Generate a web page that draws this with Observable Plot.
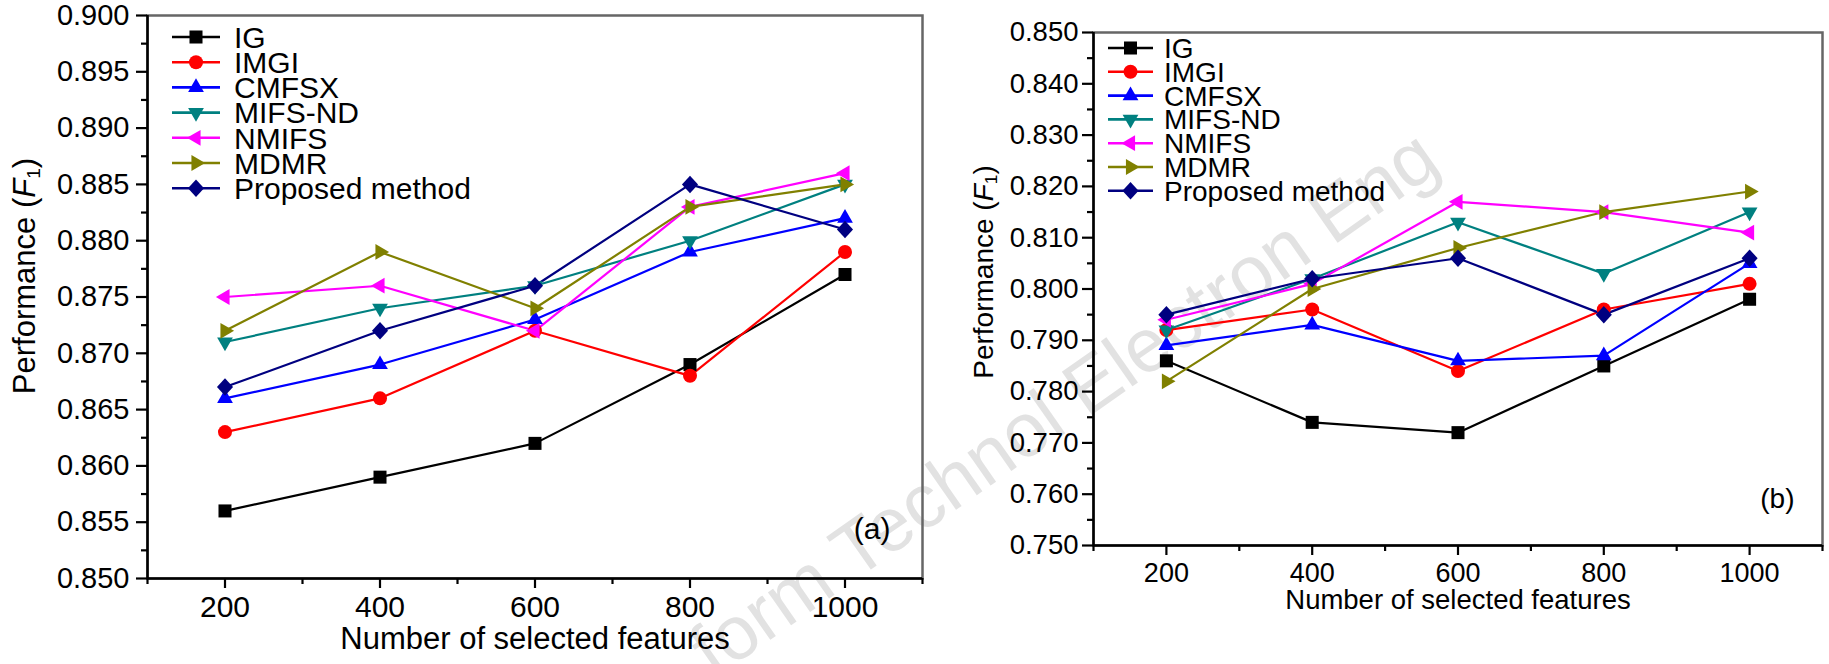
<!DOCTYPE html>
<html><head><meta charset="utf-8">
<script src="https://cdn.jsdelivr.net/npm/d3@7"></script>
<script src="https://cdn.jsdelivr.net/npm/@observablehq/plot@0.6"></script>
<style>
html,body{margin:0;padding:0;background:#fff;width:1829px;height:664px;overflow:hidden;}
#wrap{position:relative;width:1829px;height:664px;overflow:hidden;}
#wm{position:absolute;left:0;top:0;}
#pa{position:absolute;left:0;top:0;}
#pb{position:absolute;left:950px;top:0;}
</style></head><body>
<div id="wrap"><svg id="wm" width="1829" height="664"></svg><div id="pa"></div><div id="pb"></div></div>
<script>
// ---------- data ----------
const methods = ["IG", "IMGI", "CMFSX", "MIFS-ND", "NMIFS", "MDMR", "Proposed method"];
const colors = ["#000000", "#ff0000", "#0000ff", "#008080", "#ff00ff", "#808000", "#000080"];
const features = [200, 400, 600, 800, 1000];

// panel (a)
const aIG       = [0.856, 0.859, 0.862, 0.869, 0.877];
const aIMGI     = [0.863, 0.866, 0.872, 0.868, 0.879];
const aCMFSX    = [0.866, 0.869, 0.873, 0.879, 0.882];
const aMIFSND   = [0.871, 0.874, 0.876, 0.880, 0.885];
const aNMIFS    = [0.875, 0.876, 0.872, 0.883, 0.886];
const aMDMR     = [0.872, 0.879, 0.874, 0.883, 0.885];
const aProposed = [0.867, 0.872, 0.876, 0.885, 0.881];

// panel (b)
const bIG       = [0.786, 0.774, 0.772, 0.785, 0.798];
const bIMGI     = [0.792, 0.796, 0.784, 0.796, 0.801];
const bCMFSX    = [0.789, 0.793, 0.786, 0.787, 0.805];
const bMIFSND   = [0.792, 0.802, 0.813, 0.803, 0.815];
const bNMIFS    = [0.794, 0.801, 0.817, 0.815, 0.811];
const bMDMR     = [0.782, 0.800, 0.808, 0.815, 0.819];
const bProposed = [0.795, 0.802, 0.806, 0.795, 0.806];

// axis ticks
const xTicks = [200, 400, 600, 800, 1000];
const xMinorTicks = [100, 300, 500, 700, 900, 1100];
const aYTicks = [0.850, 0.855, 0.860, 0.865, 0.870, 0.875, 0.880, 0.885, 0.890, 0.895, 0.900];
const aYMinorTicks = [0.8525, 0.8575, 0.8625, 0.8675, 0.8725, 0.8775, 0.8825, 0.8875, 0.8925, 0.8975];
const bYTicks = [0.750, 0.760, 0.770, 0.780, 0.790, 0.800, 0.810, 0.820, 0.830, 0.840, 0.850];
const bYMinorTicks = [0.755, 0.765, 0.775, 0.785, 0.795, 0.805, 0.815, 0.825, 0.835, 0.845];

// ---------- symbols ----------
const rOf = size => Math.sqrt(size / Math.PI);
const symSquare = {draw(ctx, size){ const r = rOf(size) * 0.93; ctx.rect(-r, -r, 2*r, 2*r); }};
const symCircle = {draw(ctx, size){ const r = rOf(size) * 1.0; ctx.moveTo(r, 0); ctx.arc(0, 0, r, 0, 2*Math.PI); }};
const tri = angle => ({draw(ctx, size){
  const r = rOf(size) * 1.3;
  for (let i = 0; i < 3; i++) {
    const t = angle + i * 2 * Math.PI / 3;
    const x = r * Math.cos(t), y = r * Math.sin(t);
    if (i) ctx.lineTo(x, y); else ctx.moveTo(x, y);
  }
  ctx.closePath();
}});
const symDiamond = {draw(ctx, size){
  const r = rOf(size);
  ctx.moveTo(0, -1.25*r); ctx.lineTo(1.15*r, 0); ctx.lineTo(0, 1.25*r); ctx.lineTo(-1.15*r, 0); ctx.closePath();
}};
const symbols = [symSquare, symCircle, tri(-Math.PI/2), tri(Math.PI/2), tri(Math.PI), tri(0), symDiamond];

function buildRows(series) {
  const rows = [];
  series.forEach((vals, i) => vals.forEach((v, j) => rows.push({method: methods[i], features: features[j], value: v})));
  return rows;
}
const dataA = buildRows([aIG, aIMGI, aCMFSX, aMIFSND, aNMIFS, aMDMR, aProposed]);
const dataB = buildRows([bIG, bIMGI, bCMFSX, bMIFSND, bNMIFS, bMDMR, bProposed]);

const FONT = "Liberation Sans, Arial, Helvetica, sans-serif";

function makePanel(cfg) {
  const svg = Plot.plot({
    width: cfg.width, height: 664,
    marginLeft: cfg.ml, marginRight: cfg.mr, marginTop: cfg.mt, marginBottom: cfg.mb,
    style: {background: "transparent", fontFamily: FONT, fontSize: cfg.tickFont + "px", color: "#000", overflow: "visible"},
    x: {domain: [100, 1100]},
    y: {domain: cfg.yDomain},
    color: {domain: methods, range: colors},
    symbol: {domain: methods, range: symbols},
    marks: [
      Plot.frame({stroke: "#666", strokeWidth: 2.5}),
      Plot.axisX(xTicks, {tickSize: 10, tickPadding: 7, strokeWidth: 2.2, fontSize: cfg.xTickFont, label: null, tickFormat: d => String(d)}),
      Plot.axisX(xMinorTicks, {tickSize: 6, strokeWidth: 2.2, text: null, label: null}),
      Plot.axisY(cfg.yTicks, {tickSize: 11, tickPadding: cfg.yPad, strokeWidth: 2.2, fontSize: cfg.tickFont, label: null, tickFormat: d3.format(".3f")}),
      Plot.axisY(cfg.yMinor, {tickSize: 6, strokeWidth: 2.2, text: null, label: null}),
      Plot.ruleY([cfg.yDomain[0]], {stroke: "#000", strokeWidth: 2.5}),
      Plot.ruleX([100], {stroke: "#000", strokeWidth: 2.5}),
      Plot.line(cfg.data, {x: "features", y: "value", z: "method", stroke: "method", strokeWidth: 2.2}),
      Plot.dot(cfg.data, {x: "features", y: "value", symbol: "method", fill: "method", stroke: null, r: 7}),
      Plot.text([cfg.tag], {text: d => d, frameAnchor: "bottom-right", textAnchor: "end", dx: cfg.tagDx, dy: cfg.tagDy, fontSize: cfg.tagFont}),
      Plot.text(["Number of selected features"], {text: d => d, frameAnchor: "bottom", dy: cfg.xTitleDy, fontSize: cfg.xTitleFont})
    ]
  });
  const s = d3.select(svg);
  // y title
  const t = s.append("text")
    .attr("transform", `translate(${cfg.yTitleX},${cfg.yTitleY}) rotate(-90)`)
    .attr("text-anchor", "middle")
    .attr("font-size", cfg.yTitleFont)
    .attr("fill", "#000");
  t.append("tspan").text("Performance (");
  t.append("tspan").attr("font-style", "italic").text("F");
  t.append("tspan").attr("font-size", cfg.yTitleFont * 0.62).attr("dy", "0.25em").text("1");
  t.append("tspan").attr("dy", "-0.15em").text(")");
  // legend
  const g = s.append("g").attr("text-anchor", "start");
  methods.forEach((m, i) => {
    const y = cfg.legY0 + cfg.legDy * i;
    g.append("line").attr("x1", cfg.legX0).attr("x2", cfg.legX1).attr("y1", y).attr("y2", y)
      .attr("stroke", colors[i]).attr("stroke-width", 2.6);
    g.append("path").attr("transform", `translate(${(cfg.legX0 + cfg.legX1) / 2},${y})`)
      .attr("d", d3.symbol(symbols[i], Math.PI * 49)()).attr("fill", colors[i]);
    g.append("text").attr("x", cfg.legXT).attr("y", y).attr("dy", "0.36em")
      .attr("text-anchor", "start")
      .attr("font-size", cfg.legFont).attr("fill", "#000").text(m);
  });
  return svg;
}

document.getElementById("pa").append(makePanel({
  width: 925, ml: 147, mr: 3, mt: 15, mb: 86,
  yDomain: [0.85, 0.90], yTicks: aYTicks, yMinor: aYMinorTicks, yPad: 7,
  tickFont: 29, xTickFont: 30, data: dataA,
  tag: "(a)", tagDx: -32, tagDy: -40, tagFont: 30,
  xTitleDy: 70, xTitleFont: 31,
  yTitleX: 35, yTitleY: 276, yTitleFont: 31,
  legX0: 172, legX1: 220, legXT: 234, legY0: 37, legDy: 25.2, legFont: 30
}));

document.getElementById("pb").append(makePanel({
  width: 879, ml: 143, mr: 7, mt: 32, mb: 119,
  yDomain: [0.75, 0.85], yTicks: bYTicks, yMinor: bYMinorTicks, yPad: 4,
  tickFont: 27.5, xTickFont: 27, data: dataB,
  tag: "(b)", tagDx: -28, tagDy: -38, tagFont: 28,
  xTitleDy: 63, xTitleFont: 27.5,
  yTitleX: 43, yTitleY: 272, yTitleFont: 28,
  legX0: 158, legX1: 203, legXT: 214, legY0: 48, legDy: 23.8, legFont: 28
}));

// watermark
d3.select("#wm").append("text")
  .attr("transform", "translate(1428,147) rotate(-35)")
  .attr("text-anchor", "end")
  .attr("dominant-baseline", "central")
  .attr("font-family", FONT)
  .attr("font-size", 76)
  .attr("fill", "#e2e2e2")
  .text("form Technol Electron Eng");
</script>
</body></html>
